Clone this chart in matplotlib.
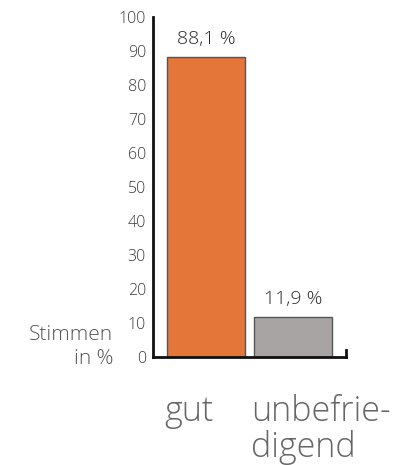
import matplotlib.pyplot as plt

plt.rcParams['font.family'] = ['Open Sans', 'DejaVu Sans']
plt.rcParams['font.weight'] = 'light'

categories = ['gut', 'unbefrie-\ndigend']
values = [88.1, 11.9]
value_labels = ['88,1 %', '11,9 %']
bar_colors = ['#E5763A', '#A8A4A4']
yticks = [0, 10, 20, 30, 40, 50, 60, 70, 80, 90, 100]

fig = plt.figure(figsize=(4.04, 4.65), dpi=100)
ax = fig.add_axes([153/404, 1 - 357/465, 193/404, 340/465])

x = list(range(len(values)))
ax.bar(x, values, width=0.9, color=bar_colors, edgecolor='#555555', linewidth=1.0)

ax.set_xlim(-0.61, 1.61)
ax.set_ylim(0, 100)
ax.set_yticks(yticks)
ax.set_yticklabels([str(t) for t in yticks], fontsize=11.5, color='#3a3a3a')
ax.tick_params(axis='y', length=0, pad=5)
ax.set_xticks([])

ax.spines['top'].set_visible(False)
ax.spines['right'].set_bounds(0, 2)
for s in ['left', 'bottom', 'right']:
    ax.spines[s].set_linewidth(2)
    ax.spines[s].set_color('#111111')

# value labels above bars
for xi, v, lab in zip(x, values, value_labels):
    ax.annotate(lab, (xi, v), xytext=(0, 6.5), textcoords='offset points',
                ha='center', va='bottom', fontsize=14, color='#2a2a2a')

# category labels below axis, left aligned at bar edge
for xi, cat in zip(x, categories):
    ax.annotate(cat, (xi - 0.45, 0), xycoords=('data', 'axes fraction'),
                xytext=(-2, -27), textcoords='offset points',
                ha='left', va='top', fontsize=24.5, color='#666666',
                linespacing=1.02, annotation_clip=False)

fig.text(113/404, 1 - 347/465, 'Stimmen\nin %', ha='right', va='center',
         fontsize=15, color='#555555', linespacing=1.2)

fig.savefig('out.png', dpi=100)
